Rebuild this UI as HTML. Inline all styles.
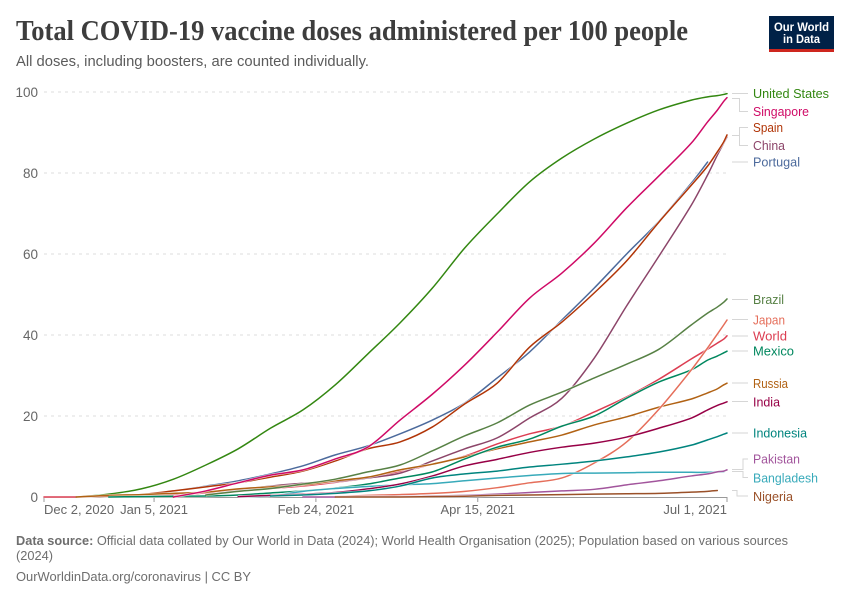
<!DOCTYPE html>
<html lang="en">
<head>
<meta charset="utf-8">
<title>Total COVID-19 vaccine doses administered per 100 people</title>
<style>
html,body{margin:0;padding:0;background:#fff}
svg{display:block}
text{font-family:"Liberation Sans",sans-serif}
.title{font-family:"Liberation Serif",serif;font-weight:700;font-size:28px;fill:#3d3d3d}
.sub{font-size:14.5px;fill:#5b5b5b}
.foot{font-size:13px;fill:#6e6e6e}
.tick{font-size:13.5px;fill:#666}
.xtick{font-size:13px;fill:#666}
.lab{font-size:13px;dominant-baseline:central}
.conn{fill:none;stroke:#d6d6d6;stroke-width:1}
.halo{fill:none;stroke:#fff;stroke-width:2.6;stroke-opacity:.75;stroke-linejoin:round}
.line{fill:none;stroke-width:1.5;stroke-linejoin:round;stroke-linecap:round}
.s-world{stroke:#dc3e52}.s-us{stroke:#338711}.s-china{stroke:#8c4569}.s-portugal{stroke:#4c6a9c}
.s-spain{stroke:#b13507}.s-russia{stroke:#b16214}.s-mexico{stroke:#00875e}.s-singapore{stroke:#cf0a66}
.s-brazil{stroke:#578145}.s-japan{stroke:#e56e5a}.s-bangladesh{stroke:#38aaba}.s-india{stroke:#970046}
.s-indonesia{stroke:#00847e}.s-pakistan{stroke:#a2559c}.s-nigeria{stroke:#9a5129}
</style>
</head>
<body>
<svg id="chart" xmlns="http://www.w3.org/2000/svg" width="850" height="600" viewBox="0 0 850 600">
  <rect width="850" height="600" fill="#fff"/>
  <text class="title" x="16" y="40" textLength="672" lengthAdjust="spacingAndGlyphs">Total COVID-19 vaccine doses administered per 100 people</text>
  <text class="sub" x="16" y="66" textLength="353" lengthAdjust="spacingAndGlyphs">All doses, including boosters, are counted individually.</text>

  <g>
    <rect x="769" y="16" width="65" height="33" fill="#002147"/>
    <rect x="769" y="49" width="65" height="3" fill="#ce261e"/>
    <text x="801.5" y="31" text-anchor="middle" font-size="12" font-weight="700" fill="#fff" textLength="55" lengthAdjust="spacingAndGlyphs">Our World</text>
    <text x="801.5" y="43" text-anchor="middle" font-size="12" font-weight="700" fill="#fff" textLength="37" lengthAdjust="spacingAndGlyphs">in Data</text>
  </g>

  <g id="grid"></g>
  <g id="yaxis"></g>
  <g id="xaxis"></g>
  <g id="series"></g>

  <g>
    <path class="conn" d="M732 93.5H748"/>
    <path class="conn" d="M732 98.5H739.5V111.5H748"/>
    <path class="conn" d="M732 135.5H739.5V127.5H748"/>
    <path class="conn" d="M732 135.5H739.5V145.5H748"/>
    <path class="conn" d="M732 162H748"/>
    <path class="conn" d="M732 299.5H748"/>
    <path class="conn" d="M732 319.5H748"/>
    <path class="conn" d="M732 336H748"/>
    <path class="conn" d="M732 351H748"/>
    <path class="conn" d="M732 383H748"/>
    <path class="conn" d="M732 401.5H748"/>
    <path class="conn" d="M732 433H748"/>
    <path class="conn" d="M732 469.5H743V459H748"/>
    <path class="conn" d="M732 471.5H743V477.5H748"/>
    <path class="conn" d="M732 490.5H737V496H748"/>
  </g>

  <g>
    <text class="lab" x="753" y="93.5" fill="#338711" textLength="76" lengthAdjust="spacingAndGlyphs">United States</text>
    <text class="lab" x="753" y="111.5" fill="#cf0a66" textLength="56" lengthAdjust="spacingAndGlyphs">Singapore</text>
    <text class="lab" x="753" y="127.5" fill="#b13507" textLength="30" lengthAdjust="spacingAndGlyphs">Spain</text>
    <text class="lab" x="753" y="145.5" fill="#8c4569" textLength="32" lengthAdjust="spacingAndGlyphs">China</text>
    <text class="lab" x="753" y="162" fill="#4c6a9c" textLength="47" lengthAdjust="spacingAndGlyphs">Portugal</text>
    <text class="lab" x="753" y="299.5" fill="#578145" textLength="31" lengthAdjust="spacingAndGlyphs">Brazil</text>
    <text class="lab" x="753" y="320" fill="#e56e5a" textLength="32" lengthAdjust="spacingAndGlyphs">Japan</text>
    <text class="lab" x="753" y="336" fill="#dc3e52" textLength="34" lengthAdjust="spacingAndGlyphs">World</text>
    <text class="lab" x="753" y="351" fill="#00875e" textLength="41" lengthAdjust="spacingAndGlyphs">Mexico</text>
    <text class="lab" x="753" y="383.5" fill="#b16214" textLength="35" lengthAdjust="spacingAndGlyphs">Russia</text>
    <text class="lab" x="753" y="402" fill="#970046" textLength="27" lengthAdjust="spacingAndGlyphs">India</text>
    <text class="lab" x="753" y="433" fill="#00847e" textLength="54" lengthAdjust="spacingAndGlyphs">Indonesia</text>
    <text class="lab" x="753" y="459" fill="#a2559c" textLength="47" lengthAdjust="spacingAndGlyphs">Pakistan</text>
    <text class="lab" x="753" y="478" fill="#38aaba" textLength="65" lengthAdjust="spacingAndGlyphs">Bangladesh</text>
    <text class="lab" x="753" y="496.5" fill="#9a5129" textLength="40" lengthAdjust="spacingAndGlyphs">Nigeria</text>
  </g>

  <text class="foot" x="16" y="545" textLength="772" lengthAdjust="spacingAndGlyphs"><tspan font-weight="700">Data source:</tspan> Official data collated by Our World in Data (2024); World Health Organisation (2025); Population based on various sources</text>
  <text class="foot" x="16" y="560" textLength="37" lengthAdjust="spacingAndGlyphs">(2024)</text>
  <text class="foot" x="16" y="581" textLength="235" lengthAdjust="spacingAndGlyphs">OurWorldinData.org/coronavirus | CC BY</text>
</svg>

<script>
const N = null;
const days = [0,10,20,30,40,50,60,70,80,90,100,110,120,130,140,150,160,170,180,190,200,205,208,210,211];
const yTickValues = [0,20,40,60,80,100];
const xTickDays = [0,34,84,134,211];
const xTickLabels = ['Dec 2, 2020','Jan 5, 2021','Feb 24, 2021','Apr 15, 2021','Jul 1, 2021'];

const world = [0,0,.1,.25,.5,1,1.5,2.1,2.7,3.6,4.7,6.2,8.1,10.1,13.1,15.6,17.5,21,24.7,29.1,34.1,36.5,38,39,39.8];
const unitedStates = [N,0,.7,2,4.4,7.9,11.9,17,21.5,27.7,35.3,43,51.6,61.5,69.9,77.8,83.7,88.4,92.3,95.6,98,98.8,99.1,99.4,99.6];
const china = [N,N,N,N,N,.4,1.7,2.7,3.4,3.8,4.7,5.9,8.9,11.9,14.6,19.5,24.4,34.3,47.2,59.5,72.1,79.5,84.4,87.4,88.9];
const portugal = [N,0,.1,.5,1.5,2.7,4,5.7,7.7,10.4,12.6,15.6,19,23.2,29.4,35.8,43.7,51.6,60,68.1,77.5,82.7,N,N,N];
const spain = [N,0,.2,.6,1.5,2.5,3.5,4.9,6.4,8.9,11.9,13.6,17.3,23,28.1,37,43.2,50.4,58.3,67.9,77,81.7,85.2,87.7,89.4];
const russia = [N,0,.4,.6,.9,1.2,2,2.5,3,4,4.9,6.7,8.1,9.9,11.9,13.6,15.3,17.8,19.8,22.2,24.2,25.7,26.7,27.7,28.1];
const mexico = [N,N,0,.1,.2,.25,.5,1,1.5,2.2,3.2,4.7,6.2,9.4,12.3,14.3,17.5,20,24.4,28.4,31.4,33.8,34.8,35.6,36];
const singapore = [N,N,N,N,0,1.5,3.5,5.4,6.7,9.4,12.3,19,25.4,32.6,40.7,49.1,55.3,62.7,71.4,79.3,87.4,92.6,95.5,97.7,98.6];
const brazil = [N,N,N,N,N,.5,1.4,2.1,3.2,4.4,6.2,7.9,11.4,15.1,18.3,22.7,25.9,29.4,32.8,36.5,42.5,45.4,46.9,48.1,48.9];
const japan = [N,N,N,N,N,N,N,N,N,.1,.4,.6,.9,1.4,2.3,3.5,4.7,8.4,13.6,21.7,31.4,36.8,40.2,42.5,43.7];
const bangladesh = [N,N,N,N,N,N,.1,.25,1.4,2.1,2.6,3,3.3,4,4.7,5.3,5.8,5.9,6,6.1,6.1,6.1,6.2,6.2,N];
const india = [N,N,N,N,N,N,.1,.4,.7,1.1,2,3.2,5.2,7.7,9.3,11,12.3,13.3,14.8,17,19.5,21.5,22.6,23.2,23.5];
const indonesia = [N,N,N,N,N,N,N,.25,.5,.9,1.5,2.7,4.7,5.7,6.4,7.4,8.1,8.9,9.9,11.1,12.8,14.1,14.9,15.5,15.8];
const pakistan = [N,N,N,N,N,N,N,N,0,0,.1,.1,.25,.4,.7,1.1,1.5,1.9,3,4,5.2,5.7,6.2,6.4,6.7];
const nigeria = [N,N,N,N,N,N,N,N,N,0,0,0,.1,.2,.4,.5,.6,.7,.8,.9,1.2,1.4,1.6,N,N];

const seriesNames = ['world','us','china','portugal','spain','russia','mexico','singapore','brazil','japan','bangladesh','india','indonesia','pakistan','nigeria'];
const seriesValues = [world,unitedStates,china,portugal,spain,russia,mexico,singapore,brazil,japan,bangladesh,india,indonesia,pakistan,nigeria];

const SVG_NS = 'http://www.w3.org/2000/svg';
const PLOT = {left:44, right:727, top:92, bottom:497};
const xScale = d => PLOT.left + d / 211 * (PLOT.right - PLOT.left);
const yScale = v => PLOT.bottom - v / 100 * (PLOT.bottom - PLOT.top);

function make(tag, attrs, parent, text) {
  const el = document.createElementNS(SVG_NS, tag);
  for (const k in attrs) el.setAttribute(k, attrs[k]);
  if (text !== undefined) el.textContent = text;
  parent.appendChild(el);
  return el;
}

const gridGroup = document.getElementById('grid');
const yAxisGroup = document.getElementById('yaxis');
const xAxisGroup = document.getElementById('xaxis');
const seriesGroup = document.getElementById('series');

yTickValues.forEach(v => {
  const y = yScale(v);
  if (v !== 0) {
    const g = make('line', {x1:PLOT.left, x2:PLOT.right, y1:y, y2:y, stroke:'#dddddd', 'stroke-width':1, 'stroke-dasharray':'3,4'}, gridGroup);
    
    
  }
  const t = make('text', {x:38, y:y + 5, 'text-anchor':'end', class:'tick'}, yAxisGroup, String(v));
  
  
});

const axisLine = make('line', {x1:PLOT.left, x2:PLOT.right, y1:PLOT.bottom + .5, y2:PLOT.bottom + .5, stroke:'#999', 'stroke-width':1}, xAxisGroup);



xTickDays.forEach((d, i) => {
  const x = xScale(d);
  const tk = make('line', {x1:x, x2:x, y1:PLOT.bottom, y2:PLOT.bottom + 5, stroke:'#999', 'stroke-width':1}, xAxisGroup);
  
  
  const anchor = i === 0 ? 'start' : (i === xTickDays.length - 1 ? 'end' : 'middle');
  const t = make('text', {x:x, y:514, 'text-anchor':anchor, class:'xtick'}, xAxisGroup, xTickLabels[i]);
  
  
});

function linePath(values) {
  const pts = [];
  values.forEach((v, i) => { if (v !== null) pts.push([xScale(days[i]), yScale(v)]); });
  let d = 'M' + pts[0][0].toFixed(2) + ' ' + pts[0][1].toFixed(2);
  const slope = i => {
    const a = pts[Math.max(0, i - 1)], b = pts[Math.min(pts.length - 1, i + 1)];
    return (b[1] - a[1]) / (b[0] - a[0]);
  };
  for (let i = 0; i < pts.length - 1; i++) {
    const p = pts[i], q = pts[i + 1], dx = (q[0] - p[0]) / 3;
    d += 'C' + (p[0] + dx).toFixed(2) + ' ' + (p[1] + slope(i) * dx).toFixed(2) + ' ' +
         (q[0] - dx).toFixed(2) + ' ' + (q[1] - slope(i + 1) * dx).toFixed(2) + ' ' +
         q[0].toFixed(2) + ' ' + q[1].toFixed(2);
  }
  return d;
}

seriesValues.forEach((values, i) => {
  const d = linePath(values);
  const halo = make('path', {d:d, class:'halo'}, seriesGroup);
  
  
  const line = make('path', {d:d, class:'line s-' + seriesNames[i]}, seriesGroup);
  
  
});
</script>
</body>
</html>
